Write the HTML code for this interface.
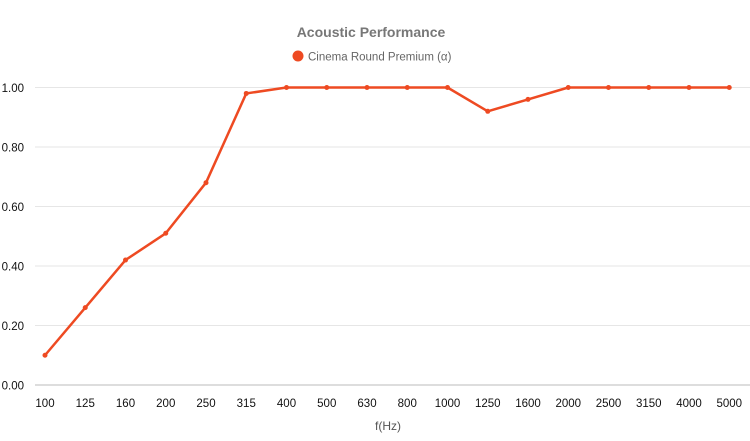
<!DOCTYPE html>
<html><head><style>body{margin:0;background:#fff}svg{display:block}</style></head><body>
<svg width="750" height="441" xmlns="http://www.w3.org/2000/svg" font-family="Liberation Sans, Helvetica, Arial, sans-serif">
<text x="371" y="37" text-anchor="middle" font-size="14" font-weight="bold" fill="#777">Acoustic Performance</text>
<circle cx="298" cy="56" r="5.5" fill="#ee4a22"/>
<text x="308" y="60.5" font-size="11.5" fill="#666">Cinema Round Premium (α)</text>
<g stroke="#e6e6e6" stroke-width="1">
<line x1="35" x2="750" y1="87.5" y2="87.5"/>
<line x1="35" x2="750" y1="147" y2="147"/>
<line x1="35" x2="750" y1="206.5" y2="206.5"/>
<line x1="35" x2="750" y1="266" y2="266"/>
<line x1="35" x2="750" y1="325.5" y2="325.5"/>
</g>
<line x1="35" x2="750" y1="385" y2="385" stroke="#bbb"/>
<g font-size="11.5" fill="#111" text-anchor="end">
<text x="24" y="92">1.00</text><text x="24" y="151.5">0.80</text><text x="24" y="211">0.60</text>
<text x="24" y="270.5">0.40</text><text x="24" y="330">0.20</text><text x="24" y="389.5">0.00</text>
</g>
<g font-size="11.5" fill="#111" text-anchor="middle" id="xl"></g>
<text x="388" y="430" font-size="12" fill="#555" text-anchor="middle">f(Hz)</text>
<polyline id="ln" fill="none" stroke="#ee4a22" stroke-width="2.5" stroke-linejoin="round"/>
<g id="pts" fill="#ee4a22"></g>
<script>
var L=["100","125","160","200","250","315","400","500","630","800","1000","1250","1600","2000","2500","3150","4000","5000"];
var V=[0.10,0.26,0.42,0.51,0.68,0.98,1,1,1,1,1,0.92,0.96,1,1,1,1,1];
var xl=document.getElementById("xl"),pts=document.getElementById("pts"),p=[],ns="http://www.w3.org/2000/svg";
for(var i=0;i<18;i++){var x=45+i*40.25,y=385-V[i]*297.5;p.push(x+","+y);
var t=document.createElementNS(ns,"text");t.setAttribute("x",x);t.setAttribute("y",407);t.textContent=L[i];xl.appendChild(t);
var c=document.createElementNS(ns,"circle");c.setAttribute("cx",x);c.setAttribute("cy",y);c.setAttribute("r",2.5);pts.appendChild(c);}
document.getElementById("ln").setAttribute("points",p.join(" "));
</script>
</svg>
</body></html>
